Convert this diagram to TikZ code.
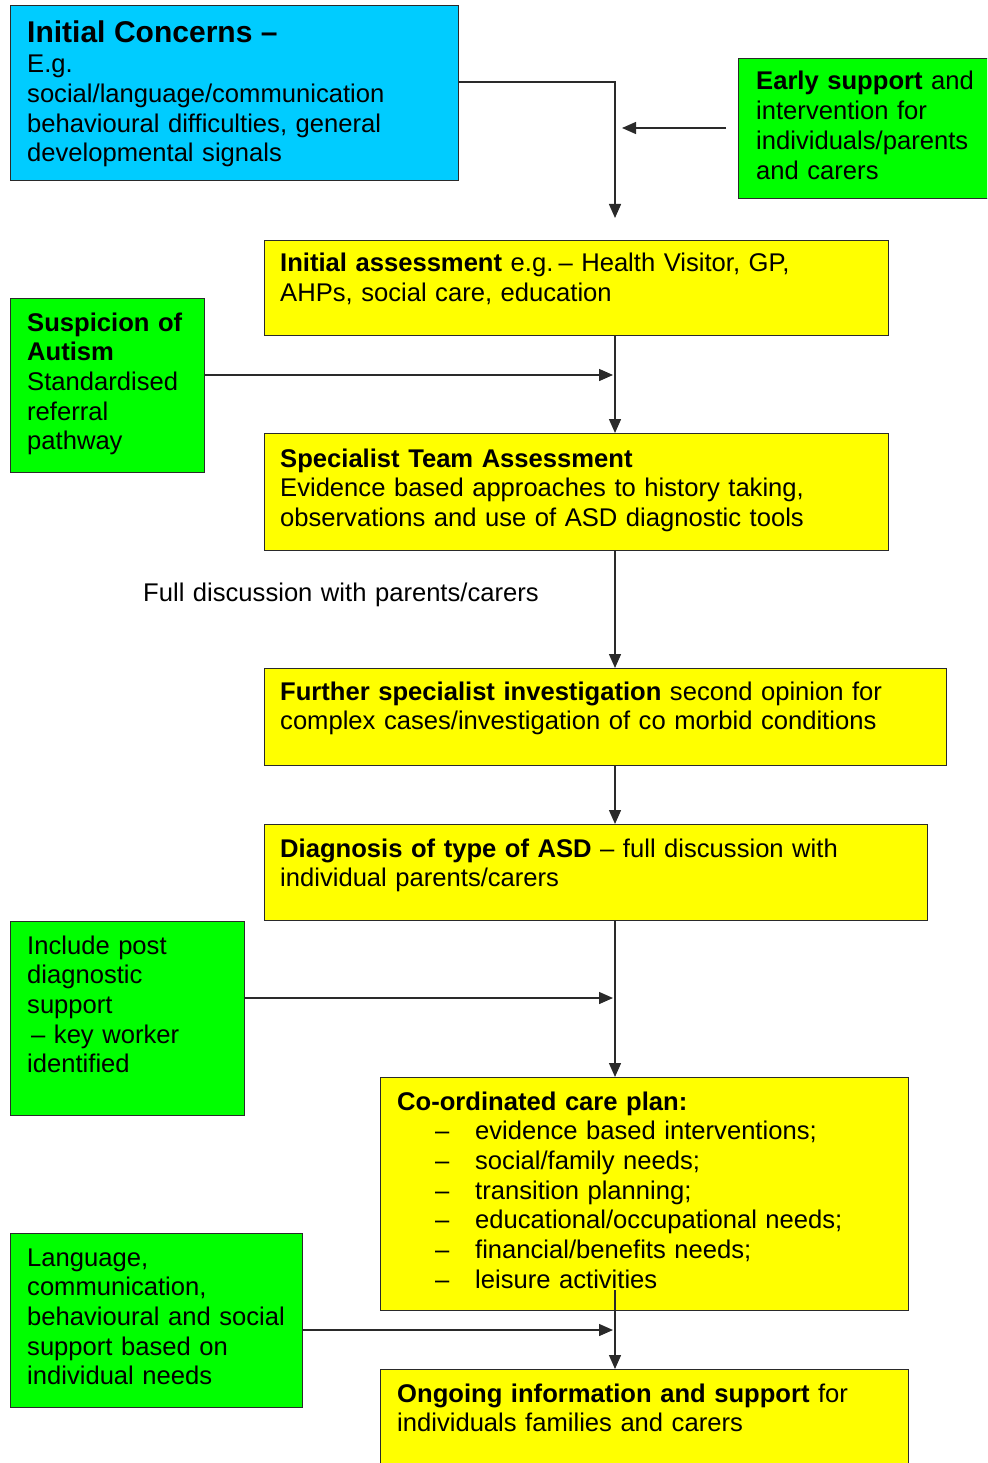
\documentclass[tikz,border=0pt]{standalone}
\usepackage{fontspec}
\setmainfont{Liberation Sans}
\usetikzlibrary{arrows.meta}
\definecolor{cbox}{HTML}{00CCFF}
\definecolor{gbox}{HTML}{00FF00}
\definecolor{ybox}{HTML}{FFFF00}
\definecolor{edge}{HTML}{2A2A2A}
\begin{document}
\begin{tikzpicture}[x=1pt,y=-1pt,
  panel/.style={draw=edge,line width=1.2pt,inner sep=0pt,anchor=north west},
  cyanpanel/.style={panel,fill=cbox},
  greenpanel/.style={panel,fill=gbox},
  yellowpanel/.style={panel,fill=ybox},
  txt/.style={anchor=base west,inner sep=0pt,text width=#1,align=left,
    font=\fontsize{25.6}{29.7}\selectfont},
  txt/.default=720pt,
  conn/.style={draw=edge,line width=1.4pt,-{Triangle[length=14pt,width=12pt]}},
  plain/.style={draw=edge,line width=1.4pt}]
\useasboundingbox (0,0) rectangle (987,1463);
\clip (0,0) rectangle (987,1463);
\fill[white] (0,0) rectangle (987,1463);

% boxes
\node[cyanpanel,minimum width=448pt,minimum height=175pt] (ic) at (10,5) {};
\node[greenpanel,minimum width=270pt,minimum height=140pt] (es) at (738,58) {};
\node[yellowpanel,minimum width=624pt,minimum height=95pt] (ia) at (264,240) {};
\node[greenpanel,minimum width=194pt,minimum height=174pt] (sa) at (10,298) {};
\node[yellowpanel,minimum width=624pt,minimum height=117pt] (sta) at (264,433) {};
\node[yellowpanel,minimum width=682pt,minimum height=97pt] (fs) at (264,668) {};
\node[yellowpanel,minimum width=663pt,minimum height=96pt] (dx) at (264,824) {};
\node[greenpanel,minimum width=234pt,minimum height=194pt] (pd) at (10,921) {};
\node[yellowpanel,minimum width=528pt,minimum height=233pt] (cp) at (380,1077) {};
\node[greenpanel,minimum width=292pt,minimum height=174pt] (ls) at (10,1233) {};
\node[yellowpanel,minimum width=528pt,minimum height=120pt] (og) at (380,1369) {};

% texts
\node[txt] (ict) at (27,43) {{\fontsize{30}{30}\selectfont\bfseries Initial Concerns –}\\E.g.\\social/language/communication\\behavioural difficulties, general\\developmental signals};
\node[txt] (est) at (756,90) {\textbf{Early support} and\\intervention for\\individuals/parents\\and carers};
\node[txt] (iat) at (280,272) {\textbf{Initial assessment} e.g.\hspace{0.2em}– Health Visitor, GP,\\AHPs, social care, education};
\node[txt] (sat) at (27,331) {\textbf{Suspicion of}\\\textbf{Autism}\\Standardised\\referral\\pathway};
\node[txt] (stat) at (280,467) {\textbf{Specialist Team Assessment}\\Evidence based approaches to history taking,\\observations and use of ASD diagnostic tools};
\node[txt] (fd) at (143,601) {Full discussion with parents/carers};
\node[txt] (fst) at (280,700) {\textbf{Further specialist investigation} second opinion for\\complex cases/investigation of co morbid conditions};
\node[txt] (dxt) at (280,857) {\textbf{Diagnosis of type of ASD} – full discussion with\\individual parents/carers};
\node[txt] (pdt) at (27,954) {Include post\\diagnostic\\support\\\hspace*{4pt}– key worker\\identified};
\node[txt] (cpt) at (397,1110) {\textbf{Co-ordinated care plan:}\\
\hspace*{38pt}\makebox[40pt][l]{–}evidence based interventions;\\
\hspace*{38pt}\makebox[40pt][l]{–}social/family needs;\\
\hspace*{38pt}\makebox[40pt][l]{–}transition planning;\\
\hspace*{38pt}\makebox[40pt][l]{–}educational/occupational needs;\\
\hspace*{38pt}\makebox[40pt][l]{–}financial/benefits needs;\\
\hspace*{38pt}\makebox[40pt][l]{–}leisure activities};
\node[txt] (lst) at (27,1266) {Language,\\communication,\\behavioural and social\\support based on\\individual needs};
\node[txt] (ogt) at (397,1402) {\textbf{Ongoing information and support} for\\individuals families and carers};

% junction coordinates
\coordinate (j1) at (615,218);
\coordinate (j2) at (622,128);
\coordinate (j3) at (613,375);
\coordinate (j4) at (613,998);
\coordinate (j5) at (615,1290);
\coordinate (j6) at (613,1330);

% connectors
\draw[conn] (ic.east |- 0,82) -- (615,82) -- (j1);
\draw[conn] (es.west |- j2) ++(-12,0) -- (j2);
\draw[conn] (ia.south -| 615,0) -- (sta.north -| 615,0);
\draw[conn] (sa.east |- j3) -- (j3);
\draw[conn] (sta.south -| 615,0) -- (fs.north -| 615,0);
\draw[conn] (fs.south -| 615,0) -- (dx.north -| 615,0);
\draw[conn] (dx.south -| 615,0) -- (cp.north -| 615,0);
\draw[conn] (pd.east |- j4) -- (j4);
\draw[conn] (j5) -- (og.north -| 615,0);
\draw[conn] (ls.east |- j6) -- (j6);
\end{tikzpicture}
\end{document}
